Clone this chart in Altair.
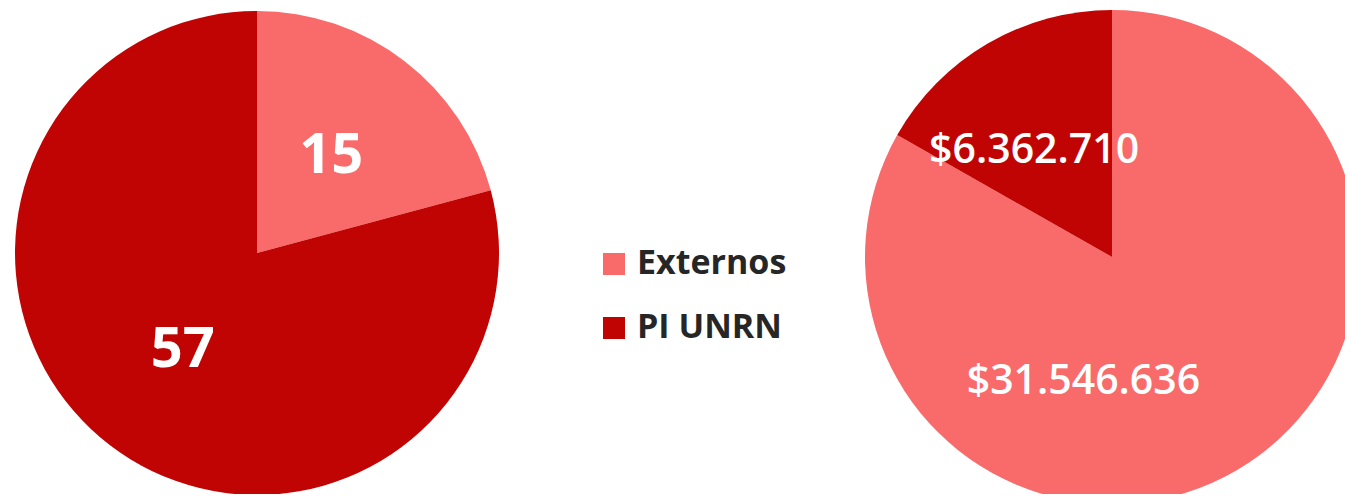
import altair as alt
import pandas as pd

categorias = ["Externos", "PI UNRN"]
orden = [1, 2]
proyectos = [15, 57]
montos = [31546636, 6362710]
etiquetas_proyectos = ["15", "57"]
etiquetas_montos = ["$31.546.636", "$6.362.710"]
colores = ["#F96A6A", "#C00404"]

df_izq = pd.DataFrame({"categoria": categorias, "orden": orden,
                       "valor": proyectos, "etiqueta": etiquetas_proyectos})
df_der = pd.DataFrame({"categoria": categorias, "orden": orden,
                       "valor": montos, "etiqueta": etiquetas_montos})
df_leg = pd.DataFrame({"categoria": categorias, "orden": orden})

color = alt.Color("categoria:N", scale=alt.Scale(domain=categorias, range=colores), legend=None)
FONT = "Open Sans"


def pie(df, cx, cy, radius, label_specs, font_size, weight):
    base = alt.Chart(df).encode(
        theta=alt.Theta("valor:Q", stack=True),
        order=alt.Order("orden:Q"),
        x=alt.value(cx),
        y=alt.value(cy),
    )
    arc = base.mark_arc(radius=radius).encode(color=color)
    layers = [arc]
    for cat, r, dx, dy in label_specs:
        t = base.mark_text(
            radius=r, dx=dx, dy=dy, font=FONT, fontSize=font_size,
            fontWeight=weight, color="white",
            align="center", baseline="middle",
        ).encode(text=alt.condition(alt.datum.categoria == cat,
                                    "etiqueta:N", alt.value("")))
        layers.append(t)
    return alt.layer(*layers)


izq = pie(df_izq, 249, 245, 242,
          [("Externos", 122, 0, 0), ("PI UNRN", 122, 0, 0)], 56, "bold")
der = pie(df_der, 1104, 249, 247,
          [("Externos", 128, -93, 14), ("PI UNRN", 131, -12, 7)], 41, 600)

leg_base = alt.Chart(df_leg).encode(
    y=alt.Y("categoria:N", sort=categorias,
            scale=alt.Scale(range=[256, 320], padding=0), axis=None)
)
leg_sq = leg_base.mark_square(size=484, opacity=1).encode(x=alt.value(606), color=color)
leg_tx = leg_base.mark_text(align="left", baseline="middle", font=FONT,
                            fontSize=34, fontWeight="bold", color="#262626").encode(
    x=alt.value(629), text="categoria:N")
leyenda = alt.layer(leg_sq, leg_tx)

chart = alt.layer(izq, leyenda, der).resolve_scale(theta="independent").properties(
    width=1337, height=486, padding=0, background="white",
    autosize=alt.AutoSizeParams(type="none"),
).configure_view(stroke=None)

chart.save("out.html", embed_options={"renderer": "svg", "actions": False})
